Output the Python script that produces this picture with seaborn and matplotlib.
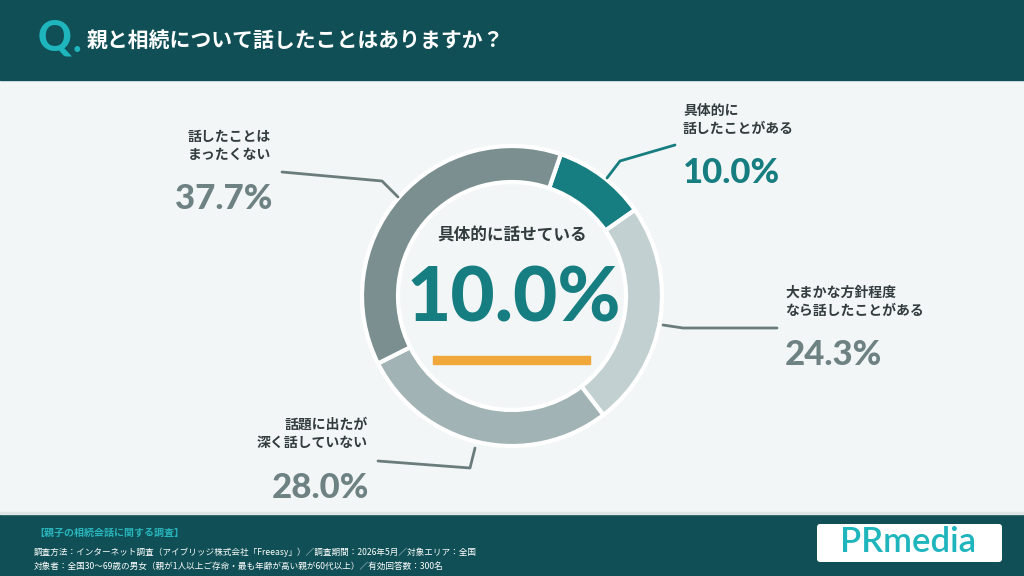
import matplotlib
matplotlib.use("Agg")
import matplotlib.pyplot as plt
from matplotlib.patches import Rectangle, FancyBboxPatch
import seaborn as sns

# data (clockwise from the top)
labels = ["具体的に\n話したことがある", "大まかな方針程度\nなら話したことがある",
          "話題に出たが\n深く話していない", "話したことは\nまったくない"]
values = [10.0, 24.3, 28.0, 37.7]
colors = ["#167d80", "#c3d0d1", "#a1b3b4", "#7b8f90"]
pct_colors = ["#167d80", "#6f8283", "#6f8283", "#6f8283"]

title = "親と相続について話したことはありますか？"
center_label = "具体的に話せている"
center_value = "10.0%"
footer_head = "【親子の相続会話に関する調査】"
footer_lines = ["調査方法：インターネット調査（アイブリッジ株式会社「Freeasy」）／調査期間：2026年5月／対象エリア：全国",
                "対象者：全国30〜69歳の男女（親が1人以上ご存命・最も年齢が高い親が60代以上）／有効回答数：300名"]

sns.set_theme(style="white")
plt.rcParams['font.family'] = ['Noto Sans CJK JP', 'DejaVu Sans']

W, H = 1024, 576
fig = plt.figure(figsize=(10.24, 5.76), dpi=100)
ax = fig.add_axes([0, 0, 1, 1])


def Y(y):
    return H - y


# backgrounds
ax.add_patch(Rectangle((0, Y(512)), W, 432, color="#f3f6f7", zorder=0))
ax.add_patch(Rectangle((0, Y(80)), W, 80, color="#0f4f55", zorder=0))
ax.add_patch(Rectangle((0, 0), W, Y(513), color="#0f4f55", zorder=0))
ax.add_patch(Rectangle((0, Y(514)), W, 2, color="#dfe5e6", zorder=0))

# donut
ax.pie(values, colors=colors, startangle=71, counterclock=False,
       radius=150, center=(512, Y(296)), frame=True,
       wedgeprops=dict(width=36, edgecolor="white", linewidth=3))

ax.set_xlim(0, W)
ax.set_ylim(0, H)
ax.set_aspect("auto")
ax.axis("off")

# center text
ax.text(512, Y(236), center_label, ha="center", va="center", fontsize=12,
        fontweight="bold", color="#333c3e")
ax.text(514, Y(300), center_value, ha="center", va="center", fontsize=55,
        fontweight="black", color="#167d80", family="Lato")
ax.add_patch(Rectangle((433, Y(364)), 157, 8, color="#f0a83a", zorder=3))

# callouts: label pos, pct pos, alignment, leader line
label_xy = [(683, 120), (785, 302), (368, 434), (188, 146)]
pct_xy = [(683, 173), (785, 355), (369, 488), (272, 199)]
aligns = ["left", "left", "right", "right"]
leaders = [[(607, 178), (620, 161), (675, 145)],
           [(663, 325), (683, 328), (777, 328)],
           [(475, 448), (470, 468), (378, 461)],
           [(398, 197), (382, 181), (282, 172)]]
for i, lab in enumerate(labels):
    lx, ly = label_xy[i]
    ha = aligns[i]
    if i == 3:
        lx, ha = 188, "left"
    ax.text(lx, Y(ly), lab, ha=ha, va="center", fontsize=10, fontweight="bold",
            color="#333c3e", linespacing=1.35)
    px, py = pct_xy[i]
    ax.text(px, Y(py), f"{values[i]:.1f}%", ha=aligns[i], va="center", fontsize=25,
            fontweight="black", color=pct_colors[i], family="Lato")
    xs = [p[0] for p in leaders[i]]
    ys = [Y(p[1]) for p in leaders[i]]
    ax.plot(xs, ys, color="#167d80" if i == 0 else "#6b7c7d", lw=2, zorder=4)

# header
ax.text(38, Y(38), "Q", ha="left", va="center", fontsize=30, fontweight="black",
        color="#1fb5bd", family="Lato")
ax.text(73, Y(42), ".", ha="left", va="center", fontsize=26, fontweight="black",
        color="#1fb5bd", family="Lato")
ax.text(87, Y(40), title, ha="left", va="center", fontsize=15, fontweight="bold",
        color="white")

# footer
ax.text(34, Y(533), footer_head, ha="left", va="center", fontsize=7.2,
        fontweight="bold", color="#2ab5bd")
ax.text(34, Y(552), footer_lines[0], ha="left", va="center", fontsize=6.2, color="white")
ax.text(34, Y(566), footer_lines[1], ha="left", va="center", fontsize=6.2, color="white")

ax.add_patch(FancyBboxPatch((817, Y(562)), 185, 38, boxstyle="round,pad=0,rounding_size=3",
                            facecolor="white", edgecolor="none", zorder=3))
ax.text(908, Y(542), "PRmedia", ha="center", va="center", fontsize=25,
        fontweight="semibold", color="#1fb5bd", family="Lato", zorder=4)

fig.savefig("out.png", dpi=100)
